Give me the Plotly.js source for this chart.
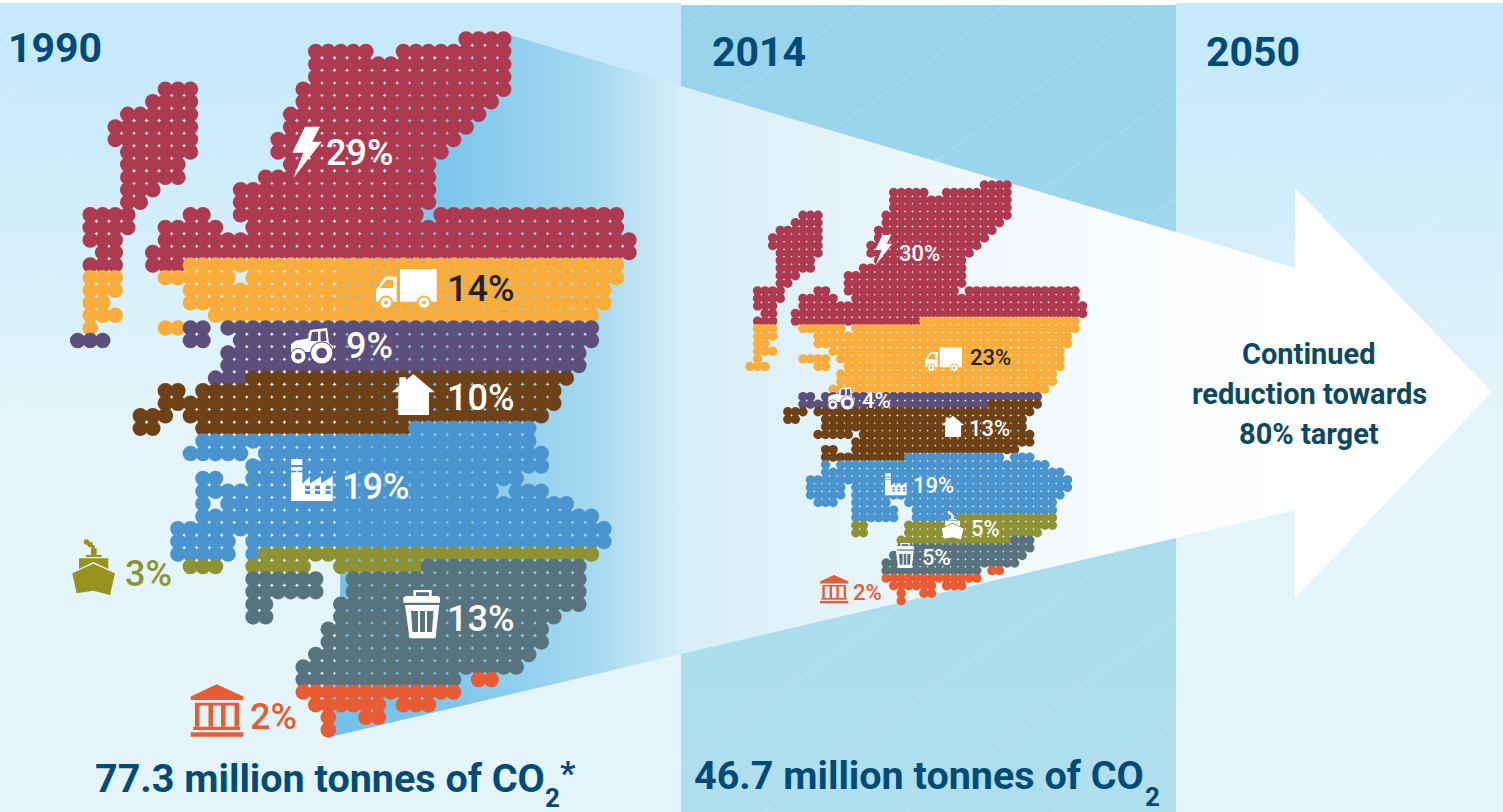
<!DOCTYPE html>
<html><head><meta charset="utf-8">
<script src="https://cdn.plot.ly/plotly-3.0.1.min.js"></script>
<style>html,body{margin:0;padding:0;background:#fff;overflow:hidden}#c{width:1503px;height:812px}</style>
</head><body><div id="c"></div>
<script>
// ---- DATA: sectors, shares, and dot rows [row, firstColumn, lastColumn] ----
const sectors = ['Energy supply','Transport','Agriculture','Buildings','Industry','Shipping','Waste','Public'];
const sectorColors = ['#AE3A50','#FBAD3C','#5C4F7C','#6E4117','#4A94D0','#8F9233','#57737E','#E85C33'];
const shares1990 = ['29%','14%','9%','10%','19%','3%','13%','2%'];
const shares2014 = ['30%','23%','4%','13%','19%','5%','5%','2%'];
const years = ['1990','2014','2050'];
const totals = ['77.3 million tonnes of CO','46.7 million tonnes of CO'];
const targetLines = ['Continued','reduction towards','80% target'];

const energy1990 = [[0,36,39],[1,24,28],[1,31,39],[2,24,39],[3,24,39],[4,12,14],[4,23,39],[5,11,14],[5,23,38],[6,9,14],[6,22,37],[7,8,14],[7,22,36],[8,8,14],[8,21,35],[9,9,14],[9,21,34],[10,9,13],[10,22,33],[11,9,13],[11,20,33],[12,9,11],[12,18,33],[13,9,10],[13,18,33],[14,6,9],[14,14,15],[14,18,32],[14,34,48],[15,6,9],[15,12,16],[15,19,48],[16,6,8],[16,12,49],[17,7,8],[17,11,49],[18,6,8],[18,11,13]];
const transport1990 = [[18,14,48],[19,6,8],[19,12,17],[19,19,48],[20,6,8],[20,14,47],[21,6,7],[21,14,47],[22,6,8],[22,16,46],[23,6,6],[23,12,13]];
const agriculture1990 = [[23,14,15],[23,17,46],[24,5,7],[24,14,15],[24,18,46],[25,17,45],[26,17,45],[27,16,18]];
const buildings1990 = [[27,19,44],[28,12,13],[28,15,43],[29,12,43],[30,10,12],[30,14,42],[31,10,11],[31,15,31]];
const industry1990 = [[31,32,41],[32,15,41],[33,14,18],[33,20,42],[34,19,42],[35,15,16],[35,19,40],[36,15,38],[36,40,42],[37,15,15],[37,17,44],[38,15,46],[39,13,47],[40,13,17],[40,19,47],[41,13,17],[41,19,19]];
const shipping1990 = [[41,20,46],[42,14,16],[42,19,23],[42,26,32]];
const waste1990 = [[42,33,45],[43,19,24],[43,27,45],[44,19,24],[44,27,45],[45,19,20],[45,26,45],[46,19,20],[46,26,43],[47,25,42],[48,25,42],[49,24,41],[50,23,40],[51,23,35]];
const publicS1990 = [[51,37,38],[52,23,35],[53,24,29],[53,31,33],[54,25,25],[54,28,29],[55,25,25]];

const energy2014 = [[0,36,39],[1,24,28],[1,31,39],[2,24,39],[3,24,39],[4,12,14],[4,23,39],[5,11,14],[5,23,38],[6,9,14],[6,22,37],[7,8,14],[7,22,36],[8,8,14],[8,21,35],[9,9,14],[9,21,34],[10,9,13],[10,22,33],[11,9,13],[11,20,33],[12,9,11],[12,18,33],[13,9,10],[13,18,33],[14,6,9],[14,14,15],[14,18,32],[14,34,48],[15,6,9],[15,12,16],[15,19,48],[16,6,8],[16,12,49],[17,7,8],[17,11,49],[18,6,8],[18,11,27]];
const transport2014 = [[18,28,48],[19,6,8],[19,12,17],[19,19,48],[20,6,8],[20,14,47],[21,6,7],[21,14,47],[22,6,8],[22,16,46],[23,6,6],[23,12,15],[23,17,46],[24,5,7],[24,14,15],[24,18,46],[25,17,45],[26,17,45],[27,16,44]];
const agriculture2014 = [[28,12,13],[28,15,43],[29,12,36]];
const buildings2014 = [[29,37,43],[30,10,12],[30,14,42],[31,10,11],[31,15,41],[32,15,41],[33,14,18],[33,20,42],[34,19,42],[35,15,16],[35,19,40],[36,15,25]];
const industry2014 = [[36,26,38],[36,40,42],[37,15,15],[37,17,44],[38,15,46],[39,13,47],[40,13,17],[40,19,47],[41,13,17],[41,19,46],[42,14,16],[42,19,23],[42,26,45],[43,19,24],[43,27,45],[44,19,24],[44,27,32]];
const shipping2014 = [[44,33,45],[45,19,20],[45,26,45],[46,19,20],[46,26,43],[47,25,39]];
const waste2014 = [[47,40,42],[48,25,42],[49,24,41],[50,23,40],[51,23,35]];
const publicS2014 = [[51,37,38],[52,23,35],[53,24,29],[53,31,33],[54,25,25],[54,28,29],[55,25,25]];

const rows1990 = [energy1990,transport1990,agriculture1990,buildings1990,industry1990,shipping1990,waste1990,publicS1990];
const rows2014 = [energy2014,transport2014,agriculture2014,buildings2014,industry2014,shipping2014,waste2014,publicS2014];

// ---- background ----
const W = 1503, H = 812;
function area(xs, ys, extra){ return Object.assign({x:xs,y:ys,mode:'none',fill:'toself',hoverinfo:'skip',showlegend:false,xaxis:'x',yaxis:'y'},extra); }
function vGrad(a,b,s,e){ return {fillgradient:{type:'vertical',start:s,stop:e,colorscale:[[0,a],[1,b]]}}; }
const traces = [];
traces.push(area([0,681,681,0,0],[3,3,H,H,3], vGrad('#C6E9FB','#E3F5FA',60,420)));
traces.push(area([1176,W,W,1176,1176],[3,3,H,H,3], vGrad('#C6E9FB','#E3F5FA',60,420)));
traces.push(area([681,1176,1176,681,681],[5,5,H,H,5], vGrad('#98D4EC','#AFDFEC',80,700)));
// faint diagonal stripes
const sx=[], sy=[];
for (let c=100;c<2700;c+=105){ sx.push(0,W,null); sy.push(c,c-W*0.72,null); }
traces.push({x:sx,y:sy,mode:'lines',line:{color:'rgba(255,255,255,0.16)',width:1.2},hoverinfo:'skip',showlegend:false,xaxis:'x',yaxis:'y'});
// funnel towards the arrow
traces.push(area([510,395,395,345,340,330,681,1176,1295,1295,1176,681,510],[35,90,200,250,600,737,654,538,510,268,232,86,35],
 {fillgradient:{type:'horizontal',start:330,stop:1295,colorscale:[[0,'#72C1EA'],[0.12,'#7CC6EB'],[0.28,'#A8DAF1'],[0.365,'#D6EEF7'],[0.6,'#EAF6FA'],[0.88,'#FBFDFE'],[1,'#FFFFFF']]}}));
traces.push(area([1295,1492,1295,1295],[188,392,598,188],{fillcolor:'#FFFFFF'}));

// ---- dot maps drawn through their own axes ----
function addMap(groups, xa, ya, size){
  groups.forEach((spans,k)=>{
    const xs=[], ys=[];
    spans.forEach(([r,a,b])=>{ for(let c=a;c<=b;c++){ xs.push(c); ys.push(r);} });
    traces.push({x:xs,y:ys,xaxis:xa,yaxis:ya,mode:'markers',name:sectors[k],hoverinfo:'name',showlegend:false,
      marker:{color:sectorColors[k],size:size,line:{width:0},opacity:1}});
  });
}
addMap(rows1990,'x2','y2',15.5);
addMap(rows2014,'x3','y3',9.4);

function overlay(pitchX,x0,pitchY,y0){
  return [{range:[-x0/pitchX,(W-x0)/pitchX],domain:[0,1],visible:false,overlaying:'x',fixedrange:true},
          {range:[(H-y0)/pitchY,-y0/pitchY],domain:[0,1],visible:false,overlaying:'y',fixedrange:true}];
}
const a1990 = overlay(12.53,15,12.56,39);
const a2014 = overlay(7.56,712.2,7.56,185);

// ---- icons (outlines given at their 1990 size) ----
const rect=(a,b,c,d,col)=>({poly:[[a,b],[c,b],[c,d],[a,d]],col});
const icons = {
 bolt:{o:[292,126.7],p:[{poly:[[305,126.7],[320,126.7],[312.3,141.7],[321.7,141.7],[293.3,178.3],[303.3,152.7],[292.3,152.7]]}]},
 truck:{o:[376,269],p:[rect(400,269,436.7,301.7),{poly:[[376,301.7],[376,290],[385,276.5],[396.7,276.5],[396.7,301.7]]},
   {poly:[[380,288],[386.5,279.5],[393,279.5],[393,288]],col:'bg'},
   {circ:[386,302.5,7],col:'bg'},{circ:[386,302.5,5.3]},{circ:[386,302.5,2],col:'bg'},
   {circ:[424,302.5,7],col:'bg'},{circ:[424,302.5,5.3]},{circ:[424,302.5,2],col:'bg'}]},
 tractor:{o:[290.7,328],p:[{poly:[[291,352],[291,344],[296,340.5],[308,338.5],[310,330],[327,328],[329,343],[333,346],[333,352]]},
   {poly:[[312,332],[318,331.5],[318,341],[310.5,341]],col:'bg'},{poly:[[320.5,331.5],[325.5,331],[326.5,341],[320.5,341]],col:'bg'},
   {circ:[298.3,356.2,8.2],col:'bg'},{circ:[298.3,356.2,7.2]},{circ:[298.3,356.2,3.3],col:'bg'},
   {circ:[321.7,353,11.6],col:'bg'},{circ:[321.7,353,10.6]},{circ:[321.7,353,5.3],col:'bg'}]},
 house:{o:[391.7,374],p:[{poly:[[391.7,392.3],[399.3,385.5],[399.3,377.3],[406,377.3],[406,380],[413.3,374],[435,392.3],[429,392.3],[429,415],[398.3,415],[398.3,392.3]]}]},
 factory:{o:[291,459],p:[rect(291,459,302.3,465),rect(291,467,302.3,470.7),rect(291,472.3,302.3,501),
   {poly:[[302,484],[310,476.5],[310,483.5],[321,476.5],[321,483.5],[332.7,476],[332.7,501],[291,501]]},
   rect(305,485.7,310,489,'bg'),rect(315,485.7,320,489,'bg'),rect(325.7,485.7,330.7,489,'bg'),
   rect(305,490.7,310,494,'bg'),rect(315,490.7,320,494,'bg'),rect(325.7,490.7,330.7,494,'bg')]},
 ship:{o:[72.3,539],p:[{circ:[86.5,542,2.8]},{circ:[90,544.5,2.8]},{circ:[93,547,2]},
   rect(91,548.3,96.7,555),rect(86,555,101.7,557),{poly:[[79,558.3],[108.3,558.3],[108.3,569],[93.3,562],[79,569]]},
   {poly:[[72.3,573.3],[93.3,563.8],[115,573.3],[110,595],[93.3,590.7],[76.7,593.3]]}]},
 trash:{o:[403.3,590],p:[rect(413.3,590,431.7,596),rect(416,592.2,429,596,'bg'),{poly:[[403.3,602.7],[403.3,597.5],[406,596],[438,596],[440,597.5],[440,602.7]]},
   {poly:[[405,605],[439.3,605],[435.5,638.3],[409.5,638.3]]},
   {poly:[[411,611],[418,611],[418,632],[412.5,632]],col:'bg'},{poly:[[420,611],[425,611],[425,632],[420,632]],col:'bg'},{poly:[[427,611],[433.5,611],[432,632],[427,632]],col:'bg'}]},
 bank:{o:[190.7,684.3],p:[{poly:[[216.7,684.3],[243.3,696.5],[243.3,700],[190.7,700],[190.7,696.5]]},rect(195,702.7,239,705.5),
   rect(195,705,199.5,726.7),rect(208.5,705,213,726.7),rect(221,705,225.5,726.7),rect(234.5,705,239,726.7),
   rect(193.3,726.7,240,730),rect(190.7,732.3,243.3,736.7)]}
};
const shapes=[];
function place(name,tx,ty,s,fg,bg){
  const ic=icons[name], [ox,oy]=ic.o;
  const X=v=>tx+s*(v-ox), Y=v=>ty+s*(v-oy);
  ic.p.forEach(pr=>{
    const col=pr.col==='bg'?bg:fg;
    if(pr.circ){ const [cx,cy,r]=pr.circ;
      shapes.push({type:'circle',xref:'x',yref:'y',x0:X(cx-r),x1:X(cx+r),y0:Y(cy-r),y1:Y(cy+r),fillcolor:col,line:{width:0},layer:'above'});
    } else {
      const d='M'+pr.poly.map(q=>X(q[0]).toFixed(2)+','+Y(q[1]).toFixed(2)).join('L')+'Z';
      shapes.push({type:'path',xref:'x',yref:'y',path:d,fillcolor:col,line:{width:0},layer:'above'});
    }
  });
}
const [cE,cT,cA,cB,cI,cS,cW,cP]=sectorColors;
place('bolt',292,126.7,1,'#fff',cE); place('truck',376,269,1,'#fff',cT); place('tractor',290.7,328,1,'#fff',cA);
place('house',391.7,374,1,'#fff',cB); place('factory',291,459,1,'#fff',cI); place('ship',72.3,539,1,'#99931E','#E3F5FA');
place('trash',403.3,590,1,'#fff',cW); place('bank',190.7,684.3,1,cP,'#E3F5FA');
place('bolt',875,235,0.58,'#fff',cE); place('truck',925,347.3,0.61,'#fff',cT); place('tractor',828,387,0.63,'#fff',cA);
place('house',941.7,415.7,0.52,'#fff',cB); place('factory',885,473.3,0.52,'#fff',cI); place('ship',941.7,511,0.51,'#fff',cS);
place('trash',895,543,0.52,'#fff',cW); place('bank',820,575,0.54,cP,'#E3F5FA');

// ---- text ----
const ann=[];
function txt(t,x,y,size,color,weight,anchor){
  ann.push({text:t,x,y,xref:'x',yref:'y',xanchor:anchor||'left',yanchor:'middle',showarrow:false,borderpad:0,
    font:{family:'Roboto, sans-serif',size,color,weight:weight||500}});
}
const navy='#004B78';
txt(years[0],7,48,41,navy,700); txt(years[1],711,52,41,navy,700); txt(years[2],1205,52,41,navy,700);
txt(totals[0],94,778,39.5,navy,700); txt('2',544,798,26,navy,700); txt('*',559,773,34,navy,700);
txt(totals[1],693,775,39.5,navy,700); txt('2',1144,797,26,navy,700);
targetLines.forEach((t,i)=>txt(t,1309,354+40*i,29,'#0B4A5E',700,'center'));
const pos1990=[[325,153,'#fff'],[446,289,'#222'],[345,346,'#fff'],[446,398,'#fff'],[341,487,'#fff'],[124,574,'#8F9233'],[446,619,'#fff'],[249,717,cP]];
const pos2014=[[898,253,'#fff'],[969,357,'#222'],[861,400,'#fff'],[968,428,'#fff'],[912,485,'#fff'],[970,528,'#fff'],[921,557,'#fff'],[852,592,cP]];
shares1990.forEach((s,i)=>txt(s,pos1990[i][0],pos1990[i][1],36,pos1990[i][2],500));
shares2014.forEach((s,i)=>txt(s,pos2014[i][0],pos2014[i][1],22,pos2014[i][2],500));

Plotly.newPlot('c',traces,{
  width:W,height:H,autosize:false,margin:{l:0,r:0,t:0,b:0,pad:0},paper_bgcolor:'#fff',plot_bgcolor:'rgba(0,0,0,0)',showlegend:false,
  xaxis:{range:[0,W],domain:[0,1],visible:false,fixedrange:true},
  yaxis:{range:[H,0],domain:[0,1],visible:false,fixedrange:true},
  xaxis2:a1990[0],yaxis2:Object.assign(a1990[1],{overlaying:'y'}),
  xaxis3:a2014[0],yaxis3:Object.assign(a2014[1],{overlaying:'y'}),
  shapes:shapes,annotations:ann
},{displayModeBar:false,staticPlot:true});
</script></body></html>
